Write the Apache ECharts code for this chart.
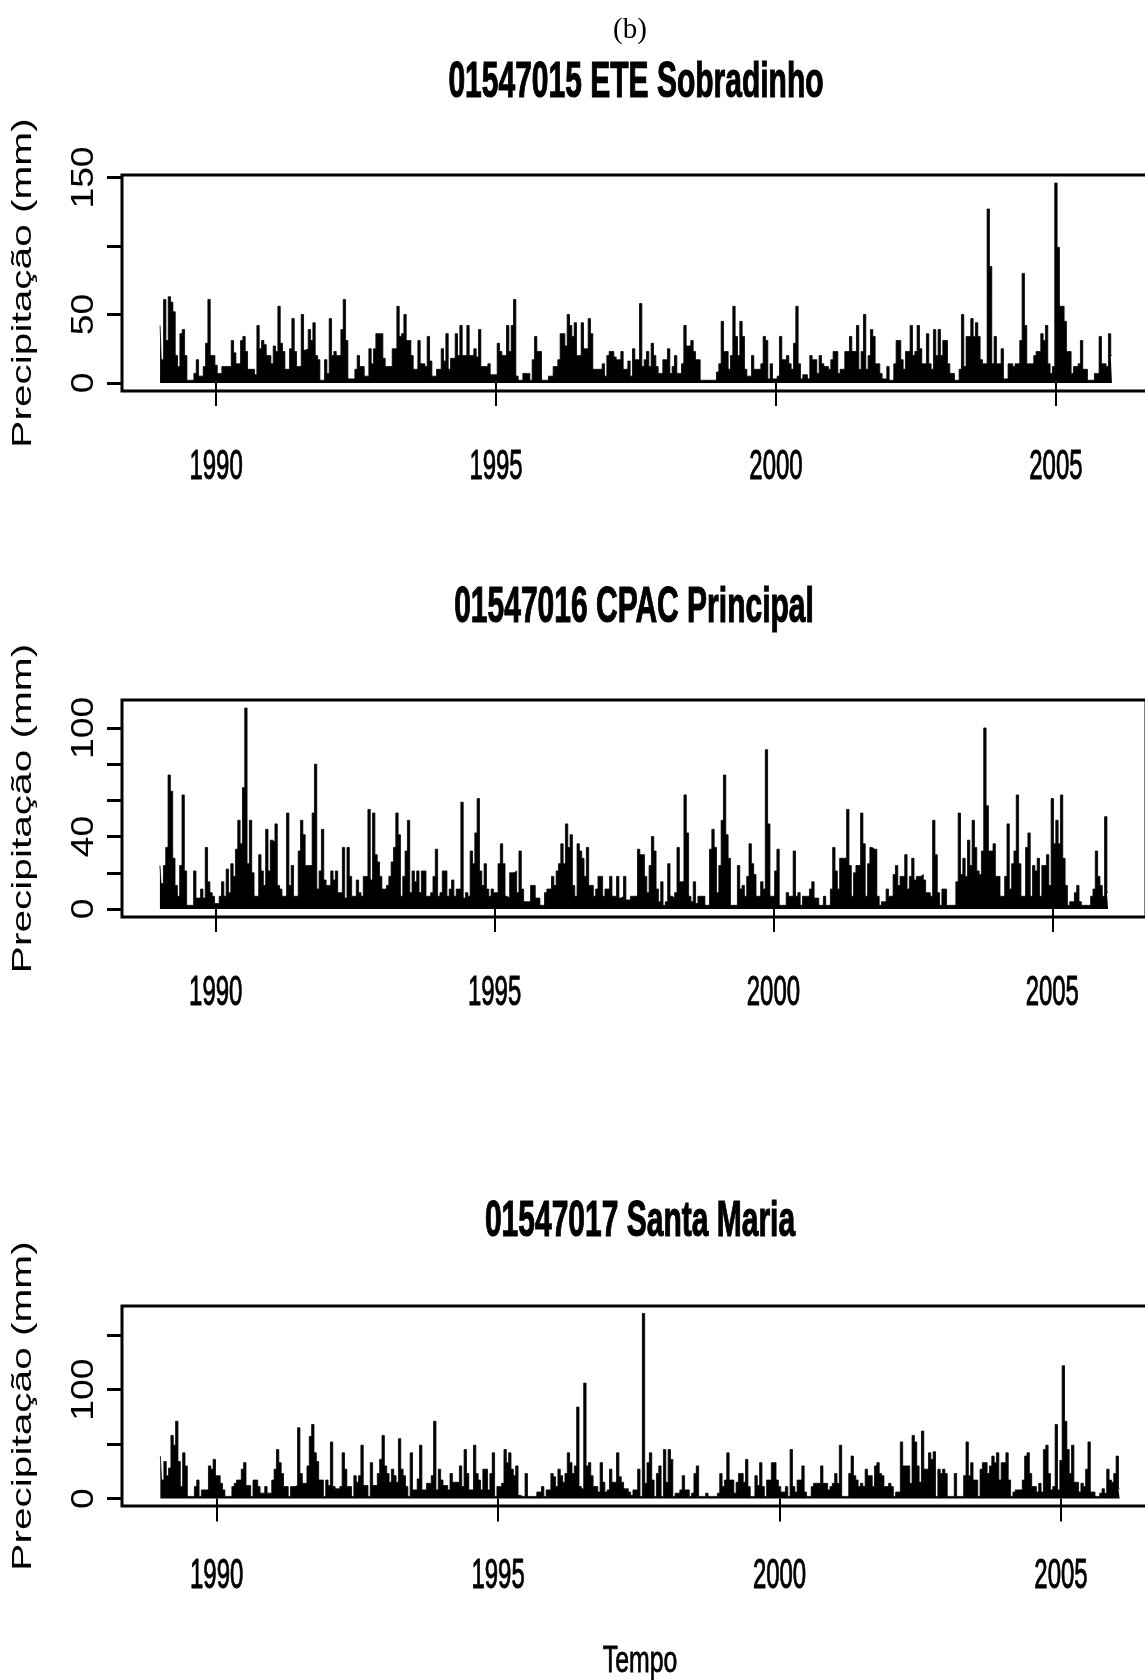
<!DOCTYPE html>
<html>
<head>
<meta charset="utf-8">
<script src="https://cdn.jsdelivr.net/npm/echarts@6/dist/echarts.min.js"></script>
<style>
  html, body { margin: 0; padding: 0; background: #fff; }
  #chart { width: 1145px; height: 1680px; }
</style>
</head>
<body>
<div id="chart"></div>
<script>
// precipitation (mm), 24 samples per year from Jan 1989
var tsStart = 1989;
var tsFreq = 24;

var sobradinho = [
  42,17,61,31,63,59,52,20,12,36, 39,20,2,2,2,7,17,5,5,12,
  29,61,20,20,13,7,7,12,12,12, 12,31,22,14,14,31,34,23,10,10,
  10,6,42,25,31,28,20,20,14,27, 23,56,29,23,10,10,25,47,23,12,
  12,50,24,25,39,31,44,20,17,2, 2,17,7,47,20,23,20,20,39,61,
  31,3,3,3,10,20,12,12,5,5, 25,14,25,36,36,36,18,12,12,12,
  25,25,56,34,36,50,31,31,20,10, 10,31,14,14,12,34,16,5,5,10,
  10,25,16,36,10,18,18,36,20,42, 20,20,42,20,20,25,19,39,12,12,
  12,14,6,6,6,29,23,20,20,42, 23,42,61,5,2,2,7,7,7,2,
  17,34,23,23,2,2,2,5,5,12, 12,17,36,36,27,50,42,34,44,20,
  20,44,25,25,47,36,10,10,10,10, 14,5,20,23,23,19,17,17,23,10,
  10,16,5,25,17,17,58,12,
  17,23,12,29,20,12,7,7,17,17, 25,7,12,20,7,7,14,42,27,27,
  31,23,17,17,2,2,2,2,2,2, 2,8,14,45,23,23,10,20,56,34,
  20,45,34,10,5,5,20,10,10,10, 14,34,31,3,14,3,3,5,34,17,
  17,20,14,10,29,56,14,3,6,6, 3,20,17,17,7,20,14,12,12,10,
  17,23,23,7,10,10,23,23,34,23, 23,42,10,23,50,10,20,39,34,14,
  14,7,3,3,12,2,2,14,31,31, 17,10,23,23,42,20,23,42,25,14,
  14,36,14,10,39,20,39,20,31,31, 14,7,7,2,2,10,50,12,34,34,
  47,34,44,34,17,14,14,127,85,14, 34,14,14,25,3,3,14,14,12,14,
  14,31,80,42,14,14,14,20,23,23, 36,31,42,14,7,12,146,99,56,56,
  45,23,23,7,12,12,14,31,10,10, 2,2,2,7,7,34,14,14,12,36,20
];

var cpac = [
  24,14,24,34,74,65,28,13,7,24, 63,21,2,2,2,21,6,6,11,6,
  34,15,9,7,3,3,7,15,7,22, 9,25,18,33,49,36,67,111,25,49,
  20,7,7,30,21,13,44,21,38,37, 47,13,11,7,7,53,13,24,7,7,
  32,49,41,24,24,24,53,80,11,21, 44,16,13,13,21,16,21,9,9,34,
  6,34,18,7,7,16,9,7,18,18, 55,16,53,30,26,18,11,11,13,18,
  26,34,53,41,7,18,32,49,9,21, 15,21,9,21,21,7,7,9,18,33,
  7,9,21,21,7,11,16,7,11,11, 59,6,9,7,32,25,42,61,21,13,
  25,11,7,11,9,9,25,36,25,7, 6,20,20,21,9,32,11,4,4,4,
  13,13,6,6,2,2,9,11,11,18, 13,21,25,36,25,47,34,41,13,7,
  36,32,28,18,34,13,13,7,11,18, 18,7,11,11,18,7,7,18,6,7,
  18,5,5,7,7,7,33,30,
  30,18,9,24,40,32,11,4,15,2, 4,25,7,6,9,34,15,15,63,42,
  7,4,15,3,7,7,7,2,2,33, 44,34,9,24,49,74,41,28,2,2,
  2,24,11,13,7,18,36,25,19,7, 7,15,11,88,47,7,7,21,33,2,
  2,2,9,7,7,32,7,9,2,7, 7,7,11,15,6,6,2,2,7,2,
  2,11,34,21,11,28,28,28,55,24, 7,20,24,24,53,36,7,25,34,33,
  33,7,2,4,4,11,7,7,19,24, 13,18,18,30,11,18,28,16,18,18,
  19,16,9,9,7,49,30,9,2,11, 11,2,2,2,2,15,53,19,28,18,
  38,24,49,34,21,19,32,100,57,32, 32,36,18,18,7,7,18,47,11,25,
  32,63,25,7,7,34,42,7,24,21, 28,7,24,24,30,13,61,36,49,36,
  63,28,13,2,4,4,9,13,4,2, 2,2,2,7,11,32,18,13,7,51,9
];

var santaMaria = [
  39,17,34,21,28,58,49,71,34,11, 42,30,2,2,2,11,17,2,8,8,
  8,30,27,36,21,21,14,8,2,2, 2,11,14,17,17,27,33,12,12,2,
  17,17,11,5,5,11,5,5,17,27, 45,33,23,11,11,2,11,11,12,65,
  23,14,14,30,57,68,42,34,17,17, 2,17,12,52,11,9,9,11,42,27,
  11,11,2,21,15,21,49,12,12,2, 33,12,12,23,36,58,30,23,15,27,
  21,15,55,27,21,11,2,42,8,8, 18,49,8,8,14,14,21,71,8,27,
  17,12,12,8,23,15,15,15,30,11, 45,23,8,8,49,23,17,8,27,27,
  8,23,42,2,11,11,14,45,33,42, 27,21,30,3,2,2,23,2,2,2,
  2,6,6,11,2,8,8,23,20,11, 27,21,15,23,42,33,23,30,84,11,
  9,106,30,33,21,11,11,6,33,15, 6,8,27,15,15,42,20,15,9,9,
  6,3,8,8,27,2,170,
  14,33,42,17,2,23,30,2,45,15, 45,36,2,5,5,8,21,8,8,2,
  5,23,30,2,2,2,5,2,2,2, 2,5,23,11,17,42,17,17,5,15,
  23,23,15,36,11,2,2,21,12,33, 11,2,17,17,33,33,17,11,6,6,
  11,2,45,11,6,17,17,30,6,2, 2,11,14,14,14,30,14,14,8,11,
  14,23,14,49,2,2,2,23,39,21, 17,11,14,11,27,21,21,11,30,33,
  23,21,11,11,14,11,2,6,6,52, 30,30,30,14,58,52,30,15,62,27,
  27,42,36,43,2,27,23,27,23,2, 2,2,23,2,2,2,21,52,21,33,
  17,17,2,27,33,33,23,30,39,33, 42,17,33,33,42,17,2,6,8,8,
  8,17,39,42,23,11,11,6,14,6, 45,49,23,8,11,68,8,35,122,71,
  45,23,49,15,15,6,14,11,27,52, 6,6,2,2,5,9,5,27,17,15,23,39,9
];

var stations = ["01547015 ETE Sobradinho", "01547016 CPAC Principal", "01547017 Santa Maria"];
var yearTicks = [1990, 1995, 2000, 2005];
var yTicks = [[0, 50, 100, 150], [0, 20, 40, 60, 80, 100], [0, 50, 100, 150]];
var yLabels = [[0, 50, 150], [0, 40, 100], [0, 100]];

var allSeries = [sobradinho, cpac, santaMaria];

// plot boxes in px
var boxLeft = 122;
var boxes = [
  { top: 175, height: 216, width: 1028, titleY: 83, labelGap: 76 },
  { top: 700, height: 217, width: 1024, titleY: 608, labelGap: 76 },
  { top: 1306, height: 200, width: 1036, titleY: 1222, labelGap: 70 }
];
var sans = '"Liberation Sans", Arial, Helvetica, sans-serif';

var chart = echarts.init(document.getElementById("chart"));

// R style limits: data range widened by 4% on each side
function padRange(lo, hi) {
  var d = (hi - lo) * 0.04;
  return [lo - d, hi + d];
}

var grids = [], xAxes = [], yAxes = [], series = [];
allSeries.forEach(function (vals, k) {
  var b = boxes[k];
  var xr = padRange(tsStart, tsStart + (vals.length - 1) / tsFreq);
  var yr = padRange(0, Math.max.apply(null, vals));
  grids.push({
    left: boxLeft, top: b.top, width: b.width, height: b.height,
    show: true, borderColor: "#000", borderWidth: 3,
    outerBoundsMode: "none"
  });
  xAxes.push({
    type: "value", gridIndex: k, min: xr[0], max: xr[1],
    axisLine: { show: false },
    splitLine: { show: false },
    axisLabel: { show: false },
    axisTick: { customValues: yearTicks, length: 23, lineStyle: { color: "#000", width: 2 } }
  });
  yAxes.push({
    type: "value", gridIndex: k, min: yr[0], max: yr[1],
    axisLine: { show: false },
    splitLine: { show: false },
    axisLabel: { show: false },
    axisTick: { customValues: yTicks[k], length: 15, lineStyle: { color: "#000", width: 3 } }
  });
  series.push({
    type: "line",
    xAxisIndex: k, yAxisIndex: k,
    data: vals.map(function (v, i) { return [tsStart + i / tsFreq, v]; }),
    step: "middle",
    symbol: "none",
    silent: true,
    lineStyle: { color: "#000", width: 0.8 },
    areaStyle: { color: "#000", opacity: 1 }
  });
});

chart.setOption({
  animation: false,
  backgroundColor: "#fff",
  grid: grids,
  xAxis: xAxes,
  yAxis: yAxes,
  series: series
});

// texts: condensed / stretched like the scanned figure
function txt(str, x, y, font, opts) {
  opts = opts || {};
  var style = {
    text: str, font: font, fill: "#000",
    align: "center", verticalAlign: "middle",
    textAlign: "center", textVerticalAlign: "middle"
  };
  if (opts.stroke) {
    style.stroke = "#000";
    style.lineWidth = opts.stroke;
  }
  return {
    type: "text", x: x, y: y,
    rotation: opts.rotation || 0,
    scaleX: opts.scaleX || 1,
    scaleY: opts.scaleY || 1,
    silent: true,
    style: style
  };
}

var g = [];
g.push(txt("(b)", 630, 30, '29px "Liberation Serif", "Times New Roman", serif'));

allSeries.forEach(function (vals, k) {
  var b = boxes[k];
  var cx = boxLeft + b.width / 2;
  g.push(txt(stations[k], cx, b.titleY, "bold 50px " + sans, { scaleX: 0.6, stroke: 1.2 }));
  g.push(txt("Precipitação (mm)", 23, b.top + b.height / 2, "28px " + sans,
    { rotation: Math.PI / 2, scaleX: 1.45 }));
  yearTicks.forEach(function (yr) {
    var p = chart.convertToPixel({ gridIndex: k }, [yr, 0]);
    g.push(txt(String(yr), p[0], b.top + b.height + b.labelGap, "42px " + sans,
      { scaleX: 0.57, stroke: 1 }));
  });
  yLabels[k].forEach(function (v) {
    var p = chart.convertToPixel({ gridIndex: k }, [tsStart, v]);
    g.push(txt(String(v), 84, p[1], "31px " + sans, { rotation: Math.PI / 2, scaleX: 1.2 }));
  });
});

g.push(txt("Tempo", boxLeft + boxes[2].width / 2, 1662, "36px " + sans, { scaleX: 0.69, stroke: 0.8 }));

chart.setOption({ graphic: g });
</script>
</body>
</html>
